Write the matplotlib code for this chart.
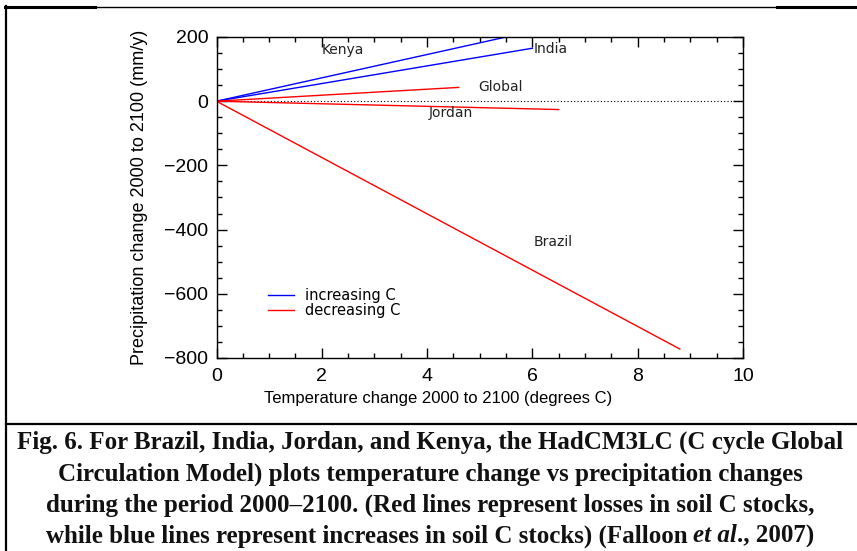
import matplotlib.pyplot as plt
from matplotlib.lines import Line2D
from matplotlib.ticker import MultipleLocator

# ===== DATA =====
regions = ["Kenya", "India", "Global", "Jordan", "Brazil"]
temp_change = [5.5, 6.0, 4.6, 6.5, 8.8]          # degrees C at 2100
precip_change = [200, 165, 43, -26, -772]         # mm/y at 2100
soil_c = ["increasing", "increasing", "decreasing", "decreasing", "decreasing"]
label_x = [2.4, 6.02, 5.4, 4.45, 6.4]
label_y = [160, 162, 43, -38, -438]
label_ha = ["center", "left", "center", "center", "center"]

caption_lines = [
    "Fig. 6. For Brazil, India, Jordan, and Kenya, the HadCM3LC (C cycle Global",
    "Circulation Model) plots temperature change vs precipitation changes",
    "during the period 2000\u20132100. (Red lines represent losses in soil C stocks,",
]
caption_last = [("while blue lines represent increases in soil C stocks) (Falloon ", "normal"),
                ("et al", "italic"),
                ("., 2007)", "normal")]
# ================

colors = {"increasing": "blue", "decreasing": "red"}
W, H = 857, 551

plt.rcParams['font.family'] = ['Liberation Sans', 'DejaVu Sans']
fig = plt.figure(figsize=(W / 100, H / 100), dpi=100)
ax = fig.add_axes([216.5 / W, 1 - 358 / H, (743 - 216.5) / W, (358 - 37) / H])

ax.plot([0, 10], [0, 0], color="black", ls=(0, (1, 2)), lw=0.8)
for name, t, p, s in zip(regions, temp_change, precip_change, soil_c):
    ax.plot([0, t], [0, p], color=colors[s], lw=1.0)
for name, x, y, ha in zip(regions, label_x, label_y, label_ha):
    ax.text(x, y, name, fontsize=10, ha=ha, va="center", color="#222222", family="DejaVu Sans")

ax.set_xlim(0, 10)
ax.set_ylim(-800, 200)
ax.xaxis.set_major_locator(MultipleLocator(2))
ax.xaxis.set_minor_locator(MultipleLocator(0.5))
ax.yaxis.set_major_locator(MultipleLocator(200))
ax.yaxis.set_minor_locator(MultipleLocator(50))
ax.tick_params(which="both", direction="in", top=True, right=True, labelsize=14, width=1.0)
ax.tick_params(which="major", length=7)
ax.tick_params(axis="x", which="major", pad=7)
ax.tick_params(axis="y", which="major", pad=6)
ax.tick_params(which="minor", length=3.5)
for sp in ax.spines.values():
    sp.set_linewidth(1.0)
ax.set_xticklabels([f"{v:g}" for v in ax.get_xticks()])
ax.set_yticklabels([f"\u2212{abs(int(v))}" if v < 0 else f"{int(v)}" for v in ax.get_yticks()])

ax.set_xlabel("Temperature change 2000 to 2100 (degrees C)", fontsize=12, va="top")
ax.xaxis.set_label_coords(0.42, -0.102)
ax.set_ylabel("Precipitation change 2000 to 2100 (mm/y)", fontsize=13)
ax.yaxis.set_label_coords(-0.13, 0.5)

# legend drawn like the IDL original
leg = [Line2D([0], [0], color="blue", lw=1.0), Line2D([0], [0], color="red", lw=1.0)]
ax.legend(leg, ["increasing C", "decreasing C"], loc="upper left",
          bbox_to_anchor=(0.075, 0.255), frameon=False,
          prop={"family": "DejaVu Sans", "size": 10.5},
          handlelength=1.8, handletextpad=0.75, labelspacing=0.0, borderpad=0.3)

# frame around the figure and divider above the caption
def hline(y, x0, x1, lw):
    fig.add_artist(Line2D([x0 / W, x1 / W], [1 - y / H, 1 - y / H], color="black", lw=lw))

hline(6.5, 6, W, 1.0)
hline(6.5, 5, 95, 2.2)
hline(6.5, 777, W, 2.2)
hline(424, 6, W, 1.6)
fig.add_artist(Line2D([6 / W, 6 / W], [0, 1 - 6 / H], color="black", lw=1.6))

# caption
cap_font = dict(family="Liberation Serif", weight="bold", fontsize=18, color="#111111")
ys = [442, 474, 505]
for line, y in zip(caption_lines, ys):
    fig.text(430 / W, 1 - y / H, line, ha="center", va="center", **cap_font)

renderer = fig.canvas.get_renderer()
pieces = []
for txt, style in caption_last:
    t = fig.text(0, 1 - 536 / H, txt, ha="left", va="center", style=style, **cap_font)
    pieces.append(t)
widths = [p.get_window_extent(renderer).width for p in pieces]
x = 430 - sum(widths) / 2
for p, w in zip(pieces, widths):
    p.set_x(x / W)
    x += w

fig.savefig("out.png", dpi=100)
